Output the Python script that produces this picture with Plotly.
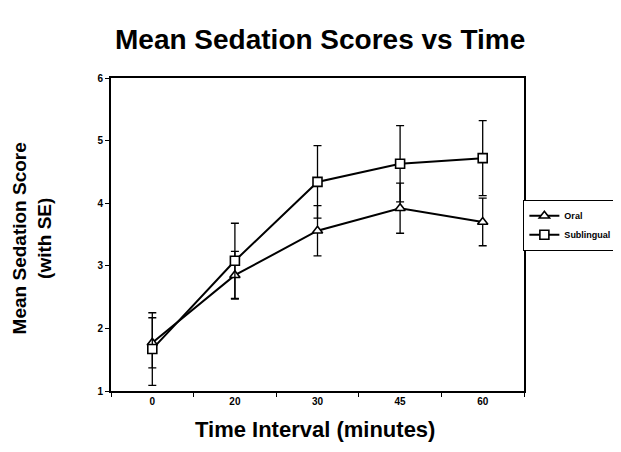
import plotly.graph_objects as go

time_labels = ["0", "20", "30", "45", "60"]
oral_mean = [1.77, 2.85, 3.56, 3.92, 3.70]
oral_se = [0.40, 0.38, 0.40, 0.40, 0.38]
subl_mean = [1.67, 3.08, 4.34, 4.63, 4.72]
subl_se = [0.58, 0.60, 0.58, 0.61, 0.60]
y_ticks = [1, 2, 3, 4, 5, 6]

FONT = "Liberation Sans, Arial, sans-serif"

fig = go.Figure()
fig.add_trace(go.Scatter(
    x=time_labels, y=oral_mean, name="Oral", mode="lines+markers",
    line=dict(color="black", width=2),
    marker=dict(symbol="triangle-up", size=9, color="white",
                line=dict(color="black", width=1.6)),
    error_y=dict(type="data", array=oral_se, visible=True,
                 color="black", thickness=1.3, width=4),
))
fig.add_trace(go.Scatter(
    x=time_labels, y=subl_mean, name="Sublingual", mode="lines+markers",
    line=dict(color="black", width=2),
    marker=dict(symbol="square", size=9, color="white",
                line=dict(color="black", width=1.6)),
    error_y=dict(type="data", array=subl_se, visible=True,
                 color="black", thickness=1.3, width=4),
))

fig.update_layout(
    width=621, height=452,
    margin=dict(l=103, r=103, t=70, b=69),
    paper_bgcolor="white", plot_bgcolor="white",
    font=dict(family=FONT, color="black"),
    showlegend=True,
    legend=dict(x=0.998, xanchor="left", y=0.61, yanchor="top",
                bordercolor="black", borderwidth=1.2,
                font=dict(size=9, family=FONT, weight="bold"),
                itemwidth=30, tracegroupgap=0, bgcolor="white"),
    xaxis=dict(
        type="category", categoryorder="array", categoryarray=time_labels,
        range=[-0.5, 4.5], showline=True, linecolor="black", linewidth=2,
        mirror=True, ticks="outside", tickson="boundaries", ticklen=4,
        tickcolor="black", showgrid=False, zeroline=False,
        tickfont=dict(size=10, family=FONT, weight="bold"),
    ),
    yaxis=dict(
        range=[1, 6], tickvals=y_ticks, showline=True, linecolor="black",
        linewidth=2, mirror=True, ticks="outside", ticklen=4,
        tickcolor="black", showgrid=False, zeroline=False,
        tickfont=dict(size=10, family=FONT, weight="bold"),
    ),
    annotations=[
        dict(text="<b>Mean Sedation Scores vs Time</b>", xref="paper",
             yref="paper", x=(313 - 103) / 415, y=(452 - 31 - 69) / 313,
             xanchor="center", yanchor="middle", showarrow=False,
             font=dict(size=28, family=FONT)),
        dict(text="<b>Time Interval (minutes)</b>", xref="paper",
             yref="paper", x=(308 - 103) / 415, y=-(421 - 383) / 313,
             xanchor="center", yanchor="middle", showarrow=False,
             font=dict(size=22, family=FONT)),
        dict(text="<b>Mean Sedation Score<br>(with SE)</b>", xref="paper",
             yref="paper", x=-(103 - 24) / 415, y=(383 - 230) / 313,
             xanchor="center", yanchor="middle", showarrow=False,
             textangle=-90, font=dict(size=19, family=FONT)),
    ],
)

fig.write_html("out.html")
